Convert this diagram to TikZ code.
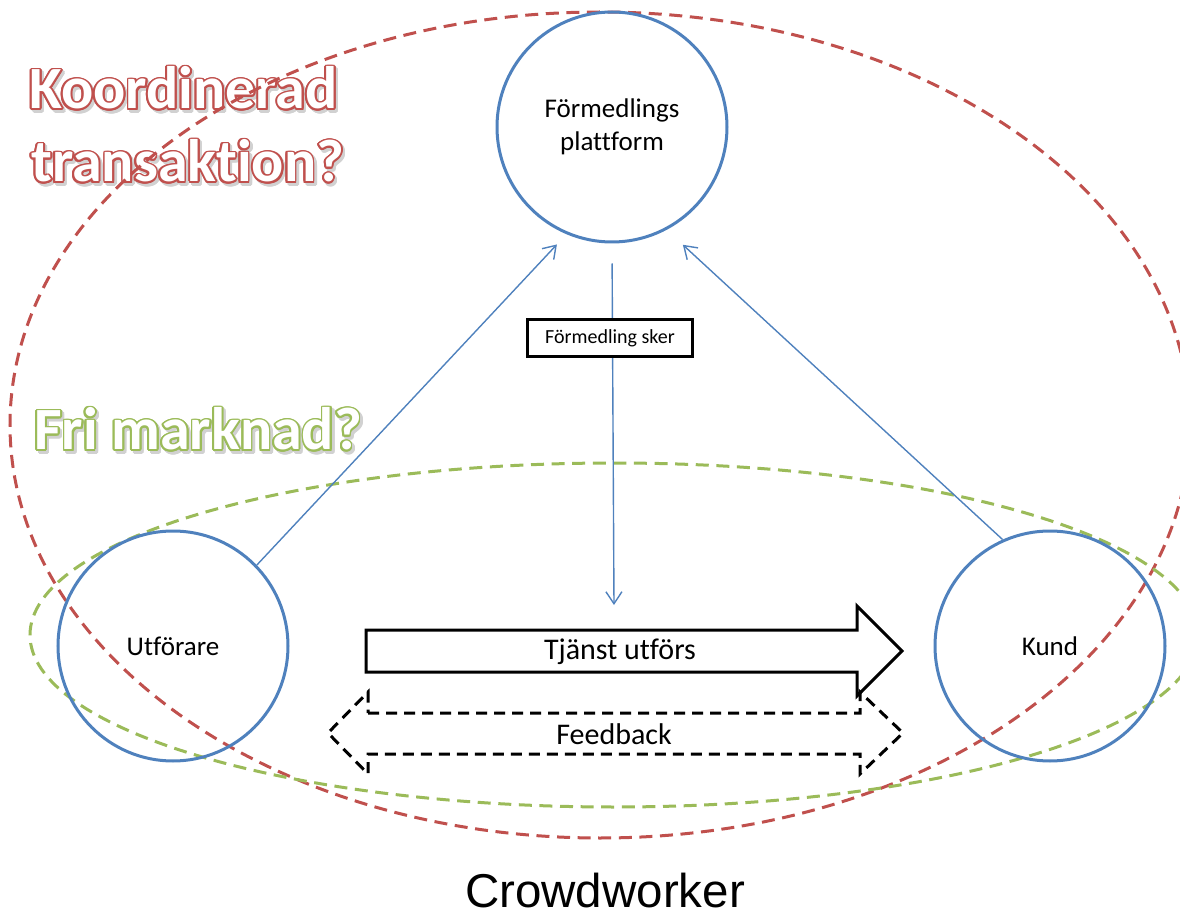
\documentclass[tikz,border=0pt]{standalone}
\usepackage{fontspec}
\setmainfont{Carlito}[Ligatures=NoCommon]
\newfontfamily\arialfont{Liberation Sans}
\usepackage{contour}
\usetikzlibrary{arrows.meta}
\definecolor{blaa}{HTML}{4F81BD}
\definecolor{roed}{HTML}{C0504D}
\definecolor{groen}{HTML}{9BBB59}
\contourlength{0.9pt}
\newcommand{\kontur}[2]{\rlap{\kern1.2pt\raisebox{-1.2pt}{\contour{black!18}{\textcolor{black!18}{#2}}}}\contour{#1}{\textcolor{white}{#2}}}

\begin{document}
\begin{tikzpicture}[x=0.5pt, y=-0.5pt, >={Straight Barb[length=6pt,width=8pt]},
	aktor/.style={circle, draw=blaa, line width=1.5pt, minimum size=115pt, inner sep=0pt, align=center, font=\fontsize{13.5}{16.5}\selectfont},
	pil/.style={->, draw=blaa, line width=0.7pt},
	titel/.style={anchor=base west, inner sep=0pt, font=\fontsize{30}{36}\selectfont\bfseries},
	omraade/.style={dash pattern=on 6.5pt off 3.8pt, line width=1.5pt},
	etikett/.style={font=\fontsize{15}{18}\selectfont}]
	\useasboundingbox (0,0) rectangle (1180,915);
	\clip (0,0) rectangle (1180,915);
	\node[titel] (koord) at (29,109) {\kontur{roed}{Koordinerad}};
	\node[titel] (trans) at (31,182) {\kontur{roed}{transaktion?}};
	\node[titel] (fri) at (34,450) {\kontur{groen}{Fri marknad?}};
	\draw[omraade, draw=roed] (600,425) ellipse [x radius=590, y radius=413];
	\draw[omraade, draw=groen] (614,635) ellipse [x radius=584, y radius=172];
	\node[aktor] (form) at (612,127) {Förmedlings\\plattform};
	\node[aktor] (utf) at (173,646) {Utförare};
	\node[aktor] (kund) at (1050,646) {Kund};
	\coordinate (ned) at (614,605);
	\draw[pil, shorten >=7pt] (utf.44) -- (form.247);
	\draw[pil, shorten >=11pt] (kund.114) -- (form.298);
	\draw[pil, shorten <=10pt] (form.south) -- (ned);
	\node[draw, line width=1.1pt, fill=white, minimum width=82.5pt, minimum height=18.5pt, inner sep=0pt, font=\fontsize{10}{12}\selectfont] (sker) at (610,338) {Förmedling sker};
	% tjänst och feedback
	\draw[line width=1.5pt] (366,630) -- (857,630) -- (857,606) -- (902,651) -- (857,696) -- (857,672) -- (366,672) -- cycle;
	\node[etikett] (tjanst) at (620,652) {Tjänst utförs};
	\draw[line width=1.5pt, dash pattern=on 5.5pt off 3.5pt] (368,713) -- (860,713) -- (860,692) -- (903,733) -- (860,774) -- (860,754) -- (368,754) -- (368,774) -- (328,733) -- (368,692) -- cycle;
	\node[etikett] (feedback) at (614,734) {Feedback};
	\node[inner sep=0pt, font=\arialfont\fontsize{23.75}{28}\selectfont] (crowd) at (605,891) {Crowdworker};
\end{tikzpicture}
\end{document}
